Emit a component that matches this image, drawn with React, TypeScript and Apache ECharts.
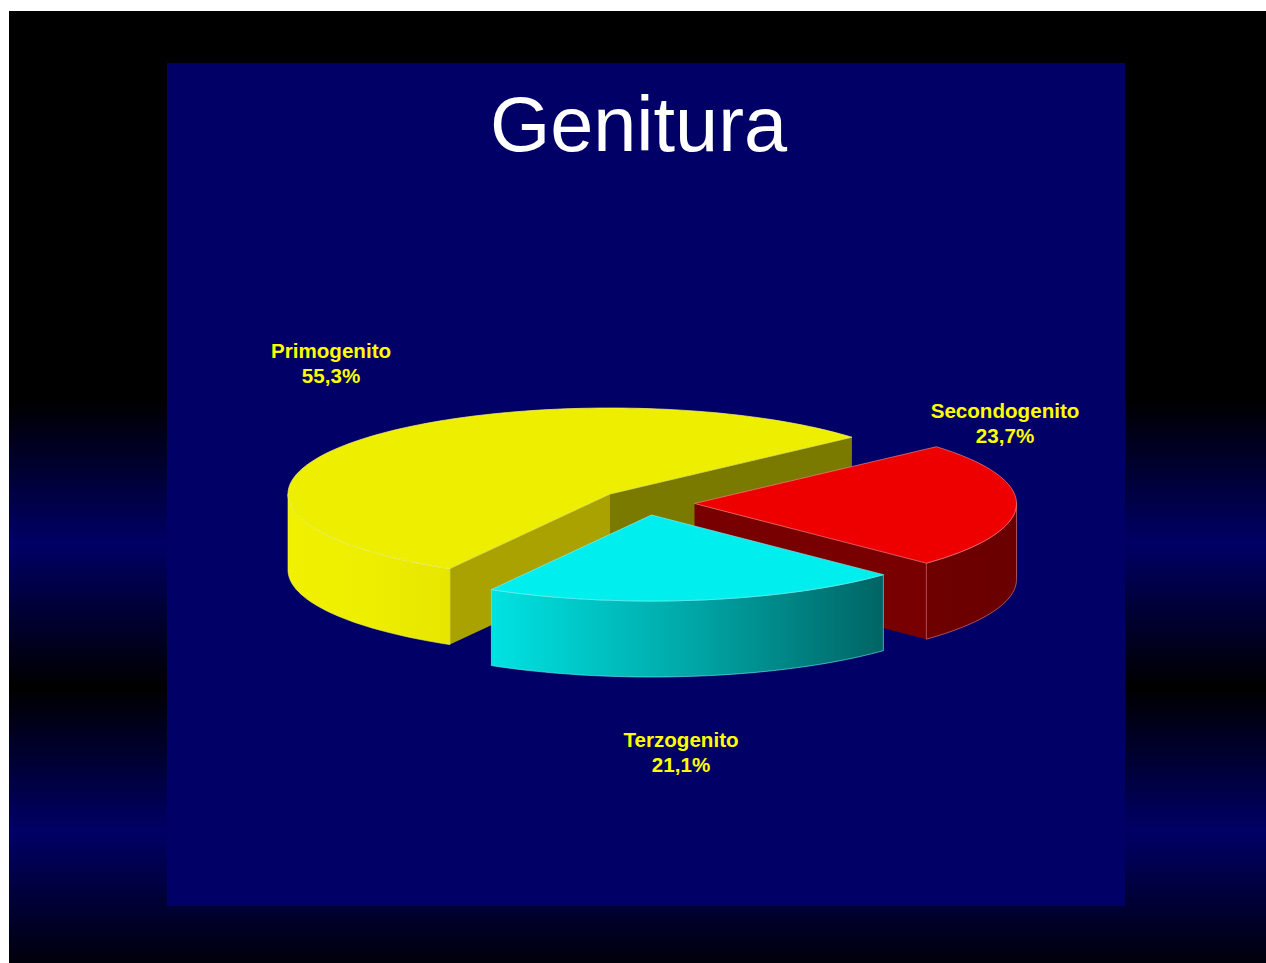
import React, { useEffect, useRef } from "react";
import * as echarts from "echarts";

const titleText = "Genitura";
const categories = ["Primogenito", "Secondogenito", "Terzogenito"];
const shares = [55.3, 23.7, 21.1];

const topColors = ["#eeee00", "#ee0000", "#00eeee"];
const edgeColors = ["#f6f66a", "#f08080", "#70f4f4"];

const RX = 322;
const RY = 86;
const DEPTH = 76;
const START_DEG = 41.3;
const centers = [[610, 494], [694.5, 503.5], [651.5, 515]];
const labelCenters = [[331, 363], [1005, 423], [681, 752]];

const FONT = '"Liberation Sans", Arial, sans-serif';

function arcPoints(cx: number, cy: number, a0: number, a1: number, dy = 0) {
  const pts: number[][] = [];
  const n = Math.max(2, Math.ceil(Math.abs(a1 - a0) / 1.5));
  for (let i = 0; i <= n; i++) {
    const a = ((a0 + ((a1 - a0) * i) / n) * Math.PI) / 180;
    pts.push([cx + RX * Math.cos(a), cy - RY * Math.sin(a) + dy]);
  }
  return pts;
}

function hGrad(stops: [number, string][]) {
  return {
    type: "linear", x: 0, y: 0, x2: 1, y2: 0,
    colorStops: stops.map(([offset, color]) => ({ offset, color })),
  };
}

function vGrad(stops: [number, string][]) {
  return {
    type: "linear", x: 0, y: 0, x2: 0, y2: 1,
    colorStops: stops.map(([offset, color]) => ({ offset, color })),
  };
}

const outerFill = [
  hGrad([[0, "#f0f000"], [0.5, "#eeee00"], [1, "#e6e600"]]),
  hGrad([[0, "#6e0000"], [1, "#6a0000"]]),
  hGrad([[0, "#00e2e2"], [0.5, "#00a8a8"], [1, "#006464"]]),
];
const backWallColor = "#7a7a00";
const frontWallColors = ["#a9a200", "#780000", "#00a0a0"];

function renderSlice(params: any, api: any) {
  const i = params.dataIndex;
  const total = shares.reduce((s, v) => s + v, 0);
  const before = shares.slice(0, i).reduce((s, v) => s + v, 0);
  const value = api.value(0);
  const [cx, cy] = centers[i];
  // The first slice runs counter-clockwise from the start angle, the others clockwise from it.
  let a0: number;
  let a1: number;
  if (i === 0) {
    a0 = START_DEG;
    a1 = START_DEG + (value / total) * 360;
  } else {
    const prior = before - shares[0];
    a0 = START_DEG - ((prior + value) / total) * 360;
    a1 = START_DEG - (prior / total) * 360;
  }
  const rim = arcPoints(cx, cy, a0, a1);
  const p0 = rim[0];
  const p1 = rim[rim.length - 1];
  const wall = (a: number[], color: string) => ({
    type: "polygon",
    shape: { points: [a, [cx, cy], [cx, cy + DEPTH], [a[0], a[1] + DEPTH]] },
    style: { fill: color },
  });
  const children: any[] = [];
  if (i === 0) {
    children.push(wall(p0, backWallColor), wall(p1, frontWallColors[0]));
  } else if (i === 1) {
    children.push(wall(p0, frontWallColors[1]));
  }

  // The outer wall is the part of the rim on the front of the ellipse.
  const o0 = i === 0 ? 180 : a0;
  const o1 = i === 1 ? 0 : a1;
  children.push({
    type: "polygon",
    shape: { points: [...arcPoints(cx, cy, o0, o1), ...arcPoints(cx, cy, o1, o0, DEPTH)] },
    style: { fill: outerFill[i], stroke: edgeColors[i], strokeOpacity: 0.6, lineWidth: 1 },
  });
  children.push({
    type: "polygon",
    shape: { points: [[cx, cy], ...rim] },
    style: { fill: topColors[i], stroke: edgeColors[i], strokeOpacity: 0.7, lineWidth: 1, lineJoin: "round" },
  });
  const [lx, ly] = labelCenters[i];
  children.push({
    type: "text",
    x: lx,
    y: ly,
    style: {
      text: `${categories[i]}\n${String(value).replace(".", ",")}%`,
      fill: "#ffff00",
      font: `bold 20.6px ${FONT}`,
      lineHeight: 24.5,
      align: "center",
      verticalAlign: "middle",
    },
  });
  return { type: "group", children };
}

export default function App() {
  const ref = useRef<HTMLDivElement>(null);
  useEffect(() => {
    const chart = echarts.init(ref.current!, null, { renderer: "svg" });
    chart.setOption({
      animation: false,
      backgroundColor: "#ffffff",
      title: {
        text: titleText,
        left: 633.5,
        top: 73.5,
        textAlign: "center",
        textStyle: { color: "#ffffff", fontFamily: FONT, fontWeight: "normal", fontSize: 77.5, lineHeight: 90 },
      },
      graphic: [
        {
          type: "rect", z: -3, silent: true,
          shape: { x: 9, y: 11, width: 1257, height: 952 },
          style: {
            fill: vGrad([
              [0, "#000000"],
              [(400 - 11) / 952, "#000000"],
              [(543 - 11) / 952, "#000066"],
              [(687 - 11) / 952, "#000000"],
              [(831 - 11) / 952, "#000066"],
              [1, "#00000c"],
            ]),
          },
        },
        {
          type: "rect", z: -2, silent: true,
          shape: { x: 167, y: 63, width: 958, height: 843 },
          style: { fill: "#000066" },
        },
      ],
      series: [
        {
          type: "custom",
          coordinateSystem: "none",
          renderItem: renderSlice,
          data: shares.map((v, i) => ({ name: categories[i], value: [v] })),
          clip: false,
          silent: true,
        },
      ],
    });
    return () => chart.dispose();
  }, []);
  return (
    <div
      ref={ref}
      style={{ position: "fixed", left: 0, top: 0, width: 1266, height: 963 }}
    />
  );
}
